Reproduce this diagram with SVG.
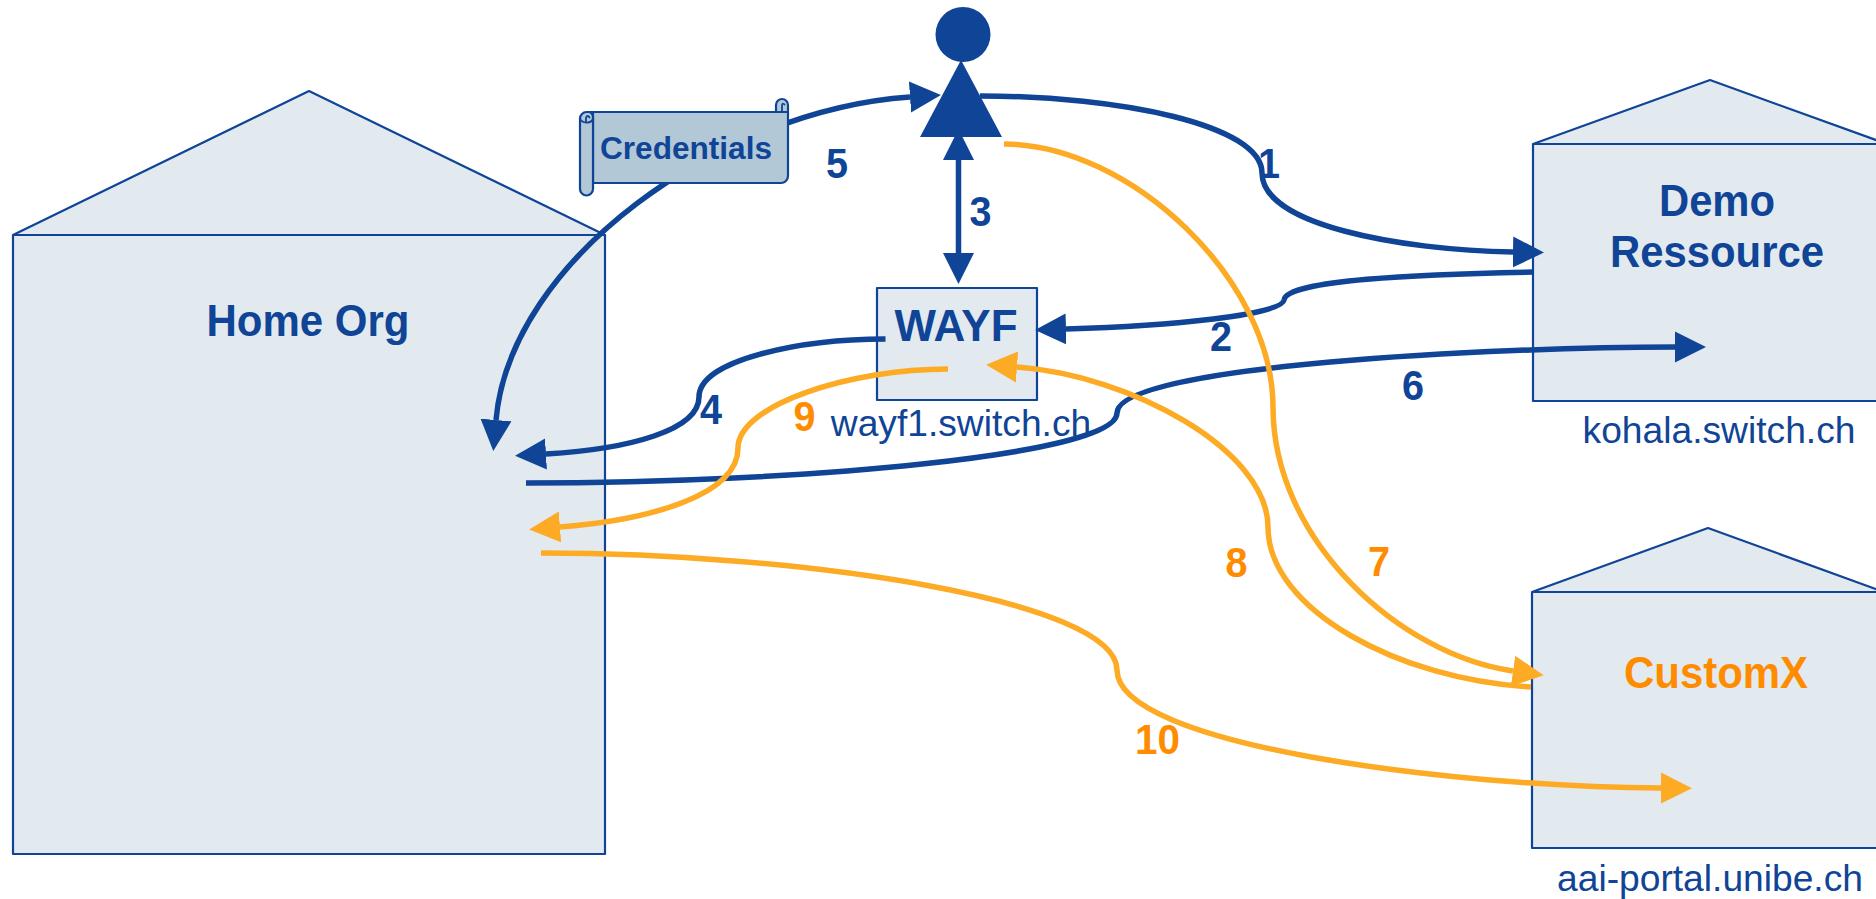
<svg xmlns="http://www.w3.org/2000/svg" width="1876" height="899" viewBox="0 0 1876 899">
<style>
text{font-family:"Liberation Sans",Arial,sans-serif;fill:#0f4496}
.b{font-weight:700}
.n{font-weight:700;font-size:43px;text-anchor:middle}
.t{font-weight:700;font-size:44px;text-anchor:middle}
.h{font-size:37.200px;text-anchor:middle}
.o{fill:#ff8c00}
.house{fill:#e2eaef;stroke:#0f4496;stroke-width:2.2;stroke-linejoin:round}
.c{fill:none;stroke-width:5.5}
.cb{stroke:#0f4496;marker-end:url(#hb)}
.co{stroke:#fdab24;marker-end:url(#ho)}
.sc{fill:#b2c8d6;stroke:#0f4496;stroke-width:2.2}
.sl{fill:none;stroke:#0f4496;stroke-width:1.8}
</style>
<defs>
<marker id="hb" markerUnits="userSpaceOnUse" markerWidth="31" markerHeight="32" refX="0" refY="16" orient="auto-start-reverse"><path d="M0,0.5L31,16L0,31.5Z" fill="#0f4496"/></marker>
<marker id="ho" markerUnits="userSpaceOnUse" markerWidth="31" markerHeight="32" refX="0" refY="16" orient="auto-start-reverse"><path d="M0,0.5L31,16L0,31.5Z" fill="#fdab24"/></marker>
</defs>
<rect width="1876" height="899" fill="#fff"/>
<g id="home-org">
<path class="house" d="M13,235L309,91L605,235V854H13Z"/><path class="house" d="M13,235H605"/>
<text class="t" x="308" y="336" textLength="203" lengthAdjust="spacingAndGlyphs">Home Org</text>
</g>
<g id="demo-ressource">
<path class="house" d="M1533,144L1710,80L1887,144V401H1533Z"/><path class="house" d="M1533,144H1887"/>
<text class="t" x="1717" y="216" textLength="116" lengthAdjust="spacingAndGlyphs">Demo</text>
<text class="t" x="1717" y="267" textLength="214" lengthAdjust="spacingAndGlyphs">Ressource</text>
<text class="h" x="1719" y="443">kohala.switch.ch</text>
</g>
<g id="customx">
<path class="house" d="M1532,592L1708,528L1884,592V848H1532Z"/><path class="house" d="M1532,592H1884"/>
<text class="t o" x="1716" y="688" textLength="184" lengthAdjust="spacingAndGlyphs">CustomX</text>
<text class="h" x="1710" y="891">aai-portal.unibe.ch</text>
</g>
<g id="wayf">
<rect class="house" x="877" y="288" width="160" height="112"/>
<text class="b" x="956" y="341" font-size="44" text-anchor="middle" textLength="123" lengthAdjust="spacingAndGlyphs">WAYF</text>
<text class="h" x="961" y="436">wayf1.switch.ch</text>
</g>
<g id="connectors">
<path class="c cb" d="M980,96C1120,96 1262,125 1262,173C1262,225 1400,250 1513,252"/>
<path class="c cb" d="M1533,272C1420,274 1286,280 1284,300C1282,315 1170,326 1066,329"/>
<path class="c cb" style="marker-start:url(#hb)" d="M958.5,160V253"/>
<path class="c cb" d="M885.5,339C800,339 699,360 699,397C699,430 630,449 546,454"/>
<path class="c cb" style="marker-start:url(#hb)" d="M910,97C720,110 510,260 496,420"/>
<path class="c cb" d="M526,483C800,483 1117,455 1117,413C1117,365 1500,347 1675,347"/>
<path class="c co" d="M1004,144C1130,144 1273,280 1273,407C1273,540 1400,655 1513,671"/>
<path class="c co" d="M1531,687C1400,680 1268,610 1268,527C1268,450 1130,375 1017,367"/>
<path class="c co" d="M948,369C850,369 738,405 738,448C738,495 650,520 560,527"/>
<path class="c co" d="M541,553C800,553 1117,600 1117,670C1117,745 1450,787 1661,788"/>
</g>
<g id="person">
<circle cx="963" cy="34.5" r="27.5" fill="#0f4496"/>
<path d="M961,60L920,137H1002Z" fill="#0f4496"/>
</g>
<g id="credentials">
<path class="sc" d="M588,112H776V105A6,6 0 0 1 788,105V176A7,7 0 0 1 781,183H593V112Z"/>
<path class="sl" d="M776,112H788M782,112V106Q782,102 785,105"/>
<path class="sc" d="M586.500,112H590A6.500,6.500 0 0 1 593,118V189A6.500,6.500 0 0 1 580,189V118.500A6.500,6.500 0 0 1 586.500,112Z"/>
<path class="sl" d="M580,118.500C582,124 592,124 593,118M586,123V118Q587,114 590,118"/>
<text class="b" x="686" y="159" font-size="32" text-anchor="middle" textLength="172" lengthAdjust="spacingAndGlyphs">Credentials</text>
</g>
<g id="labels">
<text class="n" x="1269" y="178" textLength="22" lengthAdjust="spacingAndGlyphs">1</text>
<text class="n" x="1221" y="351" textLength="22" lengthAdjust="spacingAndGlyphs">2</text>
<text class="n" x="980.500" y="226" textLength="22" lengthAdjust="spacingAndGlyphs">3</text>
<text class="n" x="711" y="424" textLength="22" lengthAdjust="spacingAndGlyphs">4</text>
<text class="n" x="837" y="178" textLength="22" lengthAdjust="spacingAndGlyphs">5</text>
<text class="n" x="1413" y="400" textLength="22" lengthAdjust="spacingAndGlyphs">6</text>
<text class="n o" x="1379" y="576" textLength="22" lengthAdjust="spacingAndGlyphs">7</text>
<text class="n o" x="1236.500" y="577" textLength="22" lengthAdjust="spacingAndGlyphs">8</text>
<text class="n o" x="804.500" y="431" textLength="22" lengthAdjust="spacingAndGlyphs">9</text>
<text class="n o" x="1157.500" y="754" textLength="45" lengthAdjust="spacingAndGlyphs">10</text>
</g>
</svg>
